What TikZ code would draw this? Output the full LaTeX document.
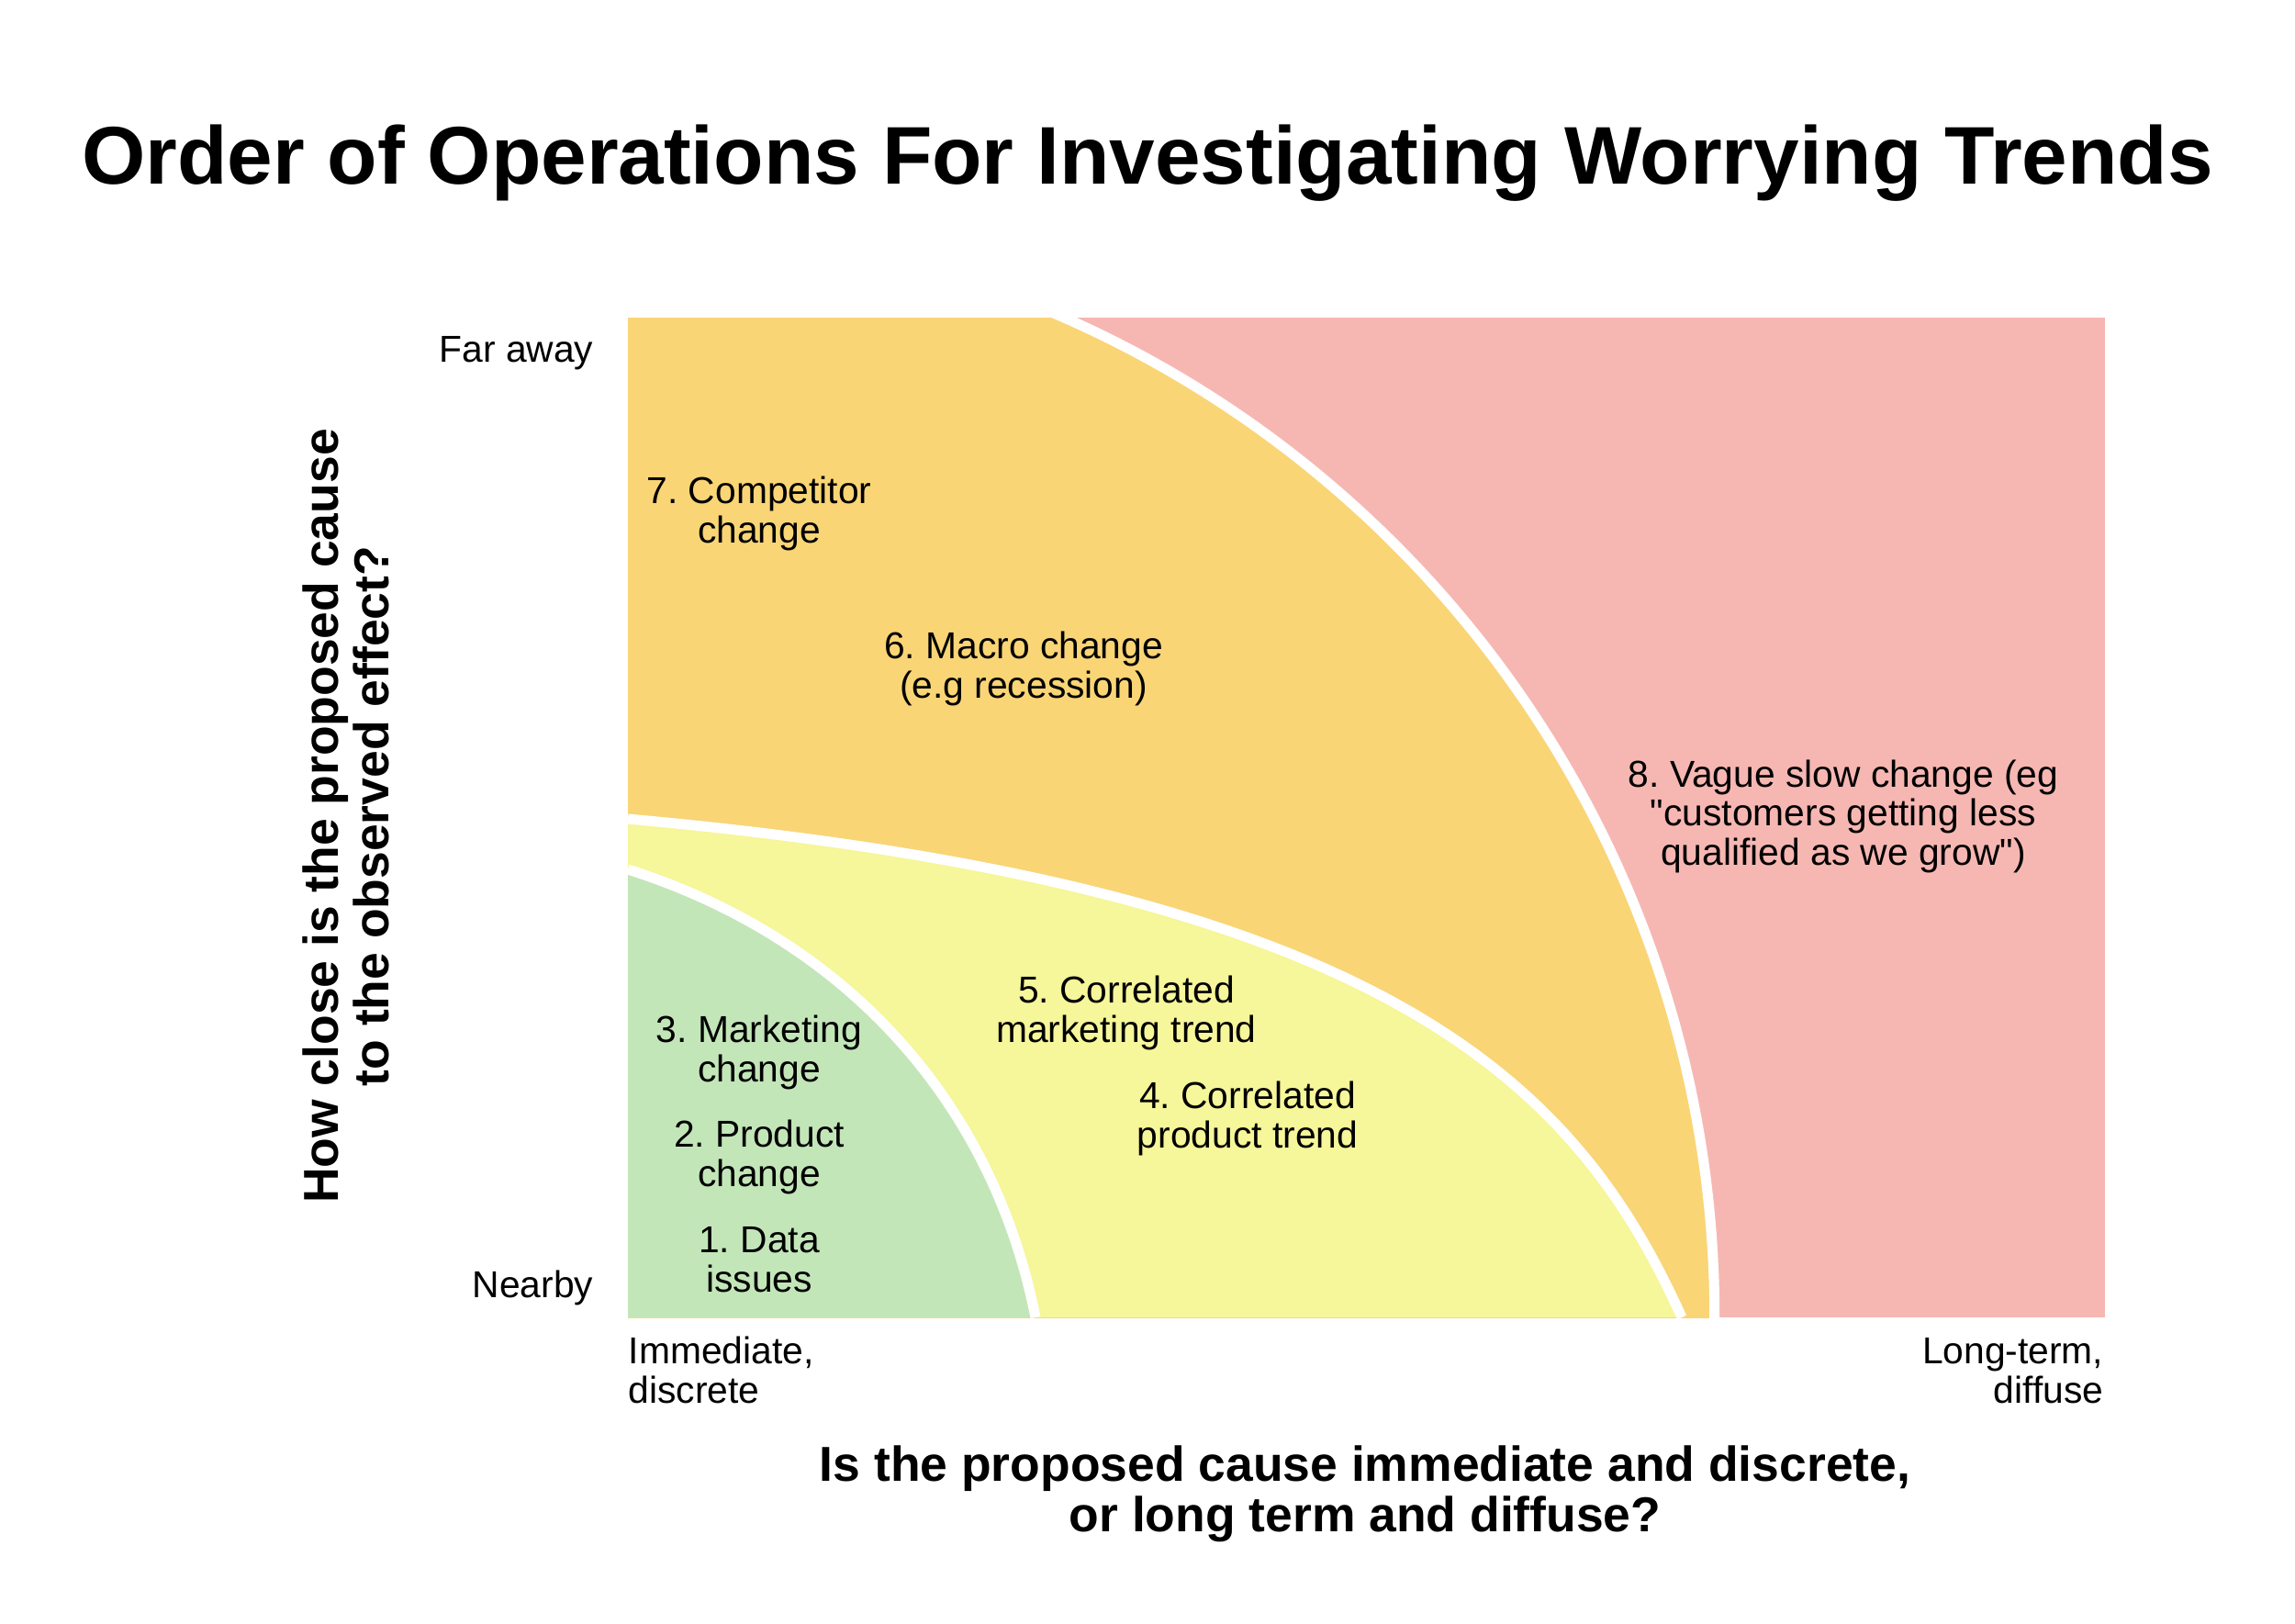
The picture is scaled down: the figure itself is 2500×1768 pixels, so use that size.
\documentclass[tikz,border=0pt]{standalone}
\usepackage{fontspec}
\setmainfont{Liberation Sans}
\usepackage{tikz}
\usepackage{xcolor}

\definecolor{zonegreen}{RGB}{195,230,185}
\definecolor{zoneyellow}{RGB}{246,246,154}
\definecolor{zoneorange}{RGB}{249,213,118}
\definecolor{zonepink}{RGB}{246,183,178}

\tikzset{
  region/.style={align=center, anchor=base, inner sep=0pt, font=\fontsize{11.6}{12}\selectfont},
  axisend/.style={inner sep=0pt, font=\fontsize{11.6}{12}\selectfont},
  axistitle/.style={align=center, anchor=base, inner sep=0pt, font=\bfseries\fontsize{15.2}{15.5}\selectfont},
  maintitle/.style={anchor=base, inner sep=0pt, font=\bfseries\fontsize{25.35}{30}\selectfont},
  zoneedge/.style={draw=white, line width=0.11cm}
}

\begin{document}
\frenchspacing
\begin{tikzpicture}[x=0.01cm, y=-0.01cm]
\useasboundingbox (0,0) rectangle (2500,1768);

% Background zone
\fill[zonepink] (684,346) rectangle (2293,1435);

% Nested zones
\begin{scope}
\clip (684,346) rectangle (2293,1435);
\fill[zoneorange] (684,1435) ellipse [x radius=11.83cm, y radius=11.88cm];
\draw[zoneedge] (684,1435) ellipse [x radius=11.83cm, y radius=11.88cm];
\fill[zoneyellow] (684,1435) -- (684,892) .. controls (1509,966) and (1716,1178) .. (1832,1435) -- cycle;
\draw[zoneedge] (684,892) .. controls (1509,966) and (1716,1178) .. (1832,1435);
\fill[zonegreen] (684,1435) -- (684,947) .. controls (914,1020) and (1080,1193) .. (1128,1435) -- cycle;
\draw[zoneedge] (684,947) .. controls (914,1020) and (1080,1193) .. (1128,1435);
\end{scope}

% Title
\node[maintitle] (title) at (1250,200) {Order of Operations For Investigating Worrying Trends};

% Zone labels (placed at the last baseline)
\node[region] (seven) at (827,591) {7. Competitor\\change};
\node[region] (six) at (1115,760) {6. Macro change\\(e.g recession)};
\node[region] (eight) at (2008,942) {8. Vague slow change (eg\\\textquotedbl customers getting less\\qualified as we grow\textquotedbl)};
\node[region] (five) at (1227,1135) {5. Correlated\\marketing trend};
\node[region] (four) at (1359,1250) {4. Correlated\\product trend};
\node[region] (three) at (827,1178) {3. Marketing\\change};
\node[region] (two) at (827,1292) {2. Product\\change};
\node[region] (one) at (827,1407) {1. Data\\issues};

% Axis ends
\node[axisend, anchor=base east] (far) at (647,394) {Far away};
\node[axisend, anchor=base east] (near) at (647,1413) {Nearby};
\node[axisend, anchor=base west, align=left] (immediate) at (684,1528) {Immediate,\\discrete};
\node[axisend, anchor=base east, align=right] (longterm) at (2292,1528) {Long-term,\\diffuse};

% Axis titles
\node[axistitle] (xtitle) at (1487,1668) {Is the proposed cause immediate and discrete,\\or long term and diffuse?};
\node[axistitle, rotate=90] (ytitle) at (423,889) {How close is the proposed cause\\to the observed effect?};
\end{tikzpicture}
\end{document}
